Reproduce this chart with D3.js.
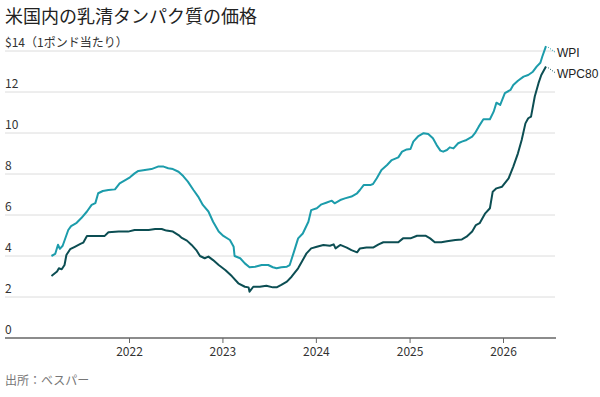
<!DOCTYPE html>
<html>
<head>
<meta charset="utf-8">
<script src="https://cdn.jsdelivr.net/npm/d3@7"></script>
<style>
  body { margin: 0; background: #fff; }
  svg text { font-family: "Noto Sans CJK JP", "Noto Sans", sans-serif; }
</style>
</head>
<body>
<div class="chart"></div>
<script>
// decimal years
const wpiYears = [2021.17,2021.21,2021.24,2021.26,2021.29,2021.35,2021.38,2021.44,2021.49,2021.55,2021.60,2021.64,2021.67,2021.72,2021.78,2021.85,2021.90,2021.96,
  2022.01,2022.06,2022.10,2022.17,2022.24,2022.31,2022.37,2022.42,2022.47,2022.53,2022.58,2022.63,2022.69,2022.74,2022.79,2022.85,2022.90,2022.96,
  2023.01,2023.08,2023.12,2023.13,2023.19,2023.24,2023.29,2023.35,2023.42,2023.49,2023.54,2023.58,2023.63,2023.69,2023.72,2023.76,2023.81,2023.86,2023.92,2023.95,
  2024.01,2024.06,2024.11,2024.17,2024.20,2024.26,2024.31,2024.38,2024.44,2024.47,2024.51,2024.58,2024.61,2024.65,2024.70,2024.76,2024.81,2024.88,2024.92,2024.97,
  2025.01,2025.04,2025.09,2025.15,2025.20,2025.25,2025.29,2025.33,2025.36,2025.40,2025.43,2025.47,2025.52,2025.56,2025.61,2025.67,2025.70,2025.74,2025.79,2025.86,2025.90,2025.93,2025.97,
  2026.02,2026.08,2026.11,2026.16,2026.22,2026.27,2026.32,2026.36,2026.40,2026.42,2026.46];
const wpiValues = [4.0,4.1,4.55,4.35,4.5,5.27,5.46,5.62,5.85,6.17,6.49,6.58,7.06,7.17,7.22,7.25,7.54,7.7,
  7.84,8.03,8.15,8.2,8.24,8.36,8.36,8.28,8.24,8.11,7.9,7.63,7.22,6.9,6.49,6.17,5.67,5.19,
  4.98,4.78,4.45,4.0,3.89,3.64,3.45,3.48,3.56,3.56,3.45,3.4,3.45,3.48,3.56,4.13,4.86,5.1,5.67,6.24,
  6.33,6.52,6.6,6.7,6.57,6.73,6.81,6.9,7.06,7.22,7.46,7.46,7.51,7.79,8.2,8.44,8.68,8.81,9.09,9.2,
  9.22,9.58,9.83,9.99,9.95,9.74,9.41,9.14,9.09,9.17,9.3,9.25,9.5,9.58,9.66,9.82,9.99,10.31,10.67,10.67,11.04,11.48,11.37,
  11.94,12.1,12.34,12.55,12.75,12.83,12.99,13.24,13.43,13.72,14.24];

const wpcYears = [2021.17,2021.23,2021.25,2021.28,2021.31,2021.33,2021.37,2021.42,2021.48,2021.51,2021.55,2021.64,2021.74,2021.78,2021.89,2021.99,
  2022.06,2022.21,2022.28,2022.35,2022.40,2022.47,2022.53,2022.56,2022.62,2022.67,2022.72,2022.76,2022.81,2022.85,2022.90,2022.96,
  2023.03,2023.10,2023.17,2023.24,2023.28,2023.29,2023.33,2023.40,2023.47,2023.54,2023.58,2023.63,2023.69,2023.74,2023.81,2023.86,2023.90,2023.95,
  2024.01,2024.08,2024.15,2024.19,2024.21,2024.26,2024.33,2024.38,2024.44,2024.47,2024.54,2024.61,2024.67,2024.72,2024.79,2024.88,2024.93,
  2025.01,2025.08,2025.17,2025.22,2025.27,2025.34,2025.40,2025.49,2025.56,2025.61,2025.67,2025.71,2025.75,2025.81,2025.86,2025.89,2025.93,2025.99,
  2026.06,2026.11,2026.16,2026.20,2026.24,2026.27,2026.30,2026.34,2026.38,2026.41,2026.46];
const wpcValues = [3.02,3.24,3.4,3.35,3.56,4.05,4.33,4.45,4.59,4.65,4.98,4.98,4.98,5.16,5.19,5.19,
  5.27,5.27,5.32,5.32,5.24,5.19,5.02,4.9,4.75,4.54,4.29,4.0,3.89,3.97,3.8,3.56,
  3.32,3.02,2.67,2.5,2.47,2.26,2.5,2.5,2.55,2.47,2.47,2.59,2.75,2.99,3.4,3.8,4.13,4.37,
  4.45,4.54,4.5,4.57,4.37,4.54,4.41,4.29,4.18,4.37,4.41,4.41,4.57,4.67,4.67,4.67,4.86,
  4.86,4.99,4.99,4.86,4.67,4.67,4.72,4.78,4.81,4.94,5.19,5.51,5.6,6.08,6.33,7.14,7.3,7.38,
  7.79,8.36,9.01,9.66,10.47,10.72,10.8,11.78,12.43,12.83,13.24];

const yTicks = [0, 2, 4, 6, 8, 10, 12, 14];
const xTicks = [2022, 2023, 2024, 2025, 2026];
const seriesNames = ["WPI", "WPC80"];
const colors = ["#1c9cab", "#0c4e53"];

function toDate(t) {
  const y = Math.floor(t);
  const a = new Date(y, 0, 1), b = new Date(y + 1, 0, 1);
  return new Date(+a + (t - y) * (b - a));
}

const series = [
  wpiYears.map((t, i) => ({ date: toDate(t), value: wpiValues[i] })),
  wpcYears.map((t, i) => ({ date: toDate(t), value: wpcValues[i] }))
];

const w = 600, h = 397;
const svg = d3.select('.chart').append('svg')
  .attr('width', w).attr('height', h);

const x = d3.scaleTime()
  .domain([new Date(2022, 0, 1), new Date(2026, 0, 1)])
  .range([129, 503]);
const y = d3.scaleLinear().domain([0, 14]).range([338, 51]);

// title
svg.append('text').attr('x', 5).attr('y', 23)
  .attr('font-size', 18).attr('fill', '#222')
  .text('米国内の乳清タンパク質の価格');

// gridlines
svg.selectAll('.grid').data(yTicks.filter(d => d > 0)).enter()
  .append('line')
  .attr('x1', 5).attr('x2', 555)
  .attr('y1', d => y(d)).attr('y2', d => y(d))
  .attr('stroke', '#dcdcdc').attr('stroke-width', 1);

// y labels
svg.selectAll('.ylab').data(yTicks).enter()
  .append('text')
  .attr('x', 5).attr('y', d => y(d) - 4)
  .attr('font-size', 12).attr('fill', '#333')
  .text(d => d === 14 ? '$14（1ポンド当たり）' : d);

// x axis
svg.append('line')
  .attr('x1', 5).attr('x2', 556)
  .attr('y1', y(0)).attr('y2', y(0))
  .attr('stroke', '#666').attr('stroke-width', 1.5);

const xAxis = svg.append('g')
  .attr('transform', `translate(0,${y(0)})`)
  .call(d3.axisBottom(x)
    .tickValues(xTicks.map(t => new Date(t, 0, 1)))
    .tickFormat(d3.timeFormat('%Y'))
    .tickSize(5).tickPadding(4));
xAxis.select('.domain').remove();
xAxis.selectAll('line').attr('stroke', '#666');
xAxis.selectAll('text')
  .attr('font-size', 12).attr('fill', '#333')
  .style('font-family', '"Noto Sans CJK JP", sans-serif');

// lines
const line = d3.line().x(d => x(d.date)).y(d => y(d.value));
svg.selectAll('.series').data(series).enter()
  .append('path')
  .attr('d', line)
  .attr('fill', 'none')
  .attr('stroke', (d, i) => colors[i])
  .attr('stroke-width', 2)
  .attr('stroke-linejoin', 'round');

// end labels with dotted leaders
series.forEach((s, i) => {
  const last = s[s.length - 1];
  const lx = x(last.date), ly = y(last.value);
  svg.append('line')
    .attr('x1', lx + 2).attr('y1', ly + 1)
    .attr('x2', lx + 9).attr('y2', ly + 6)
    .attr('stroke', colors[i]).attr('stroke-width', 1)
    .attr('stroke-dasharray', '1,1.5');
  svg.append('text')
    .attr('x', lx + 11).attr('y', ly + 11)
    .attr('font-size', 12).attr('fill', '#222')
    .style('font-family', '"Liberation Sans", Arial, sans-serif')
    .text(seriesNames[i]);
});

// source
svg.append('text').attr('x', 5).attr('y', 385)
  .attr('font-size', 12).attr('fill', '#777')
  .text('出所：ベスパー');
</script>
</body>
</html>
